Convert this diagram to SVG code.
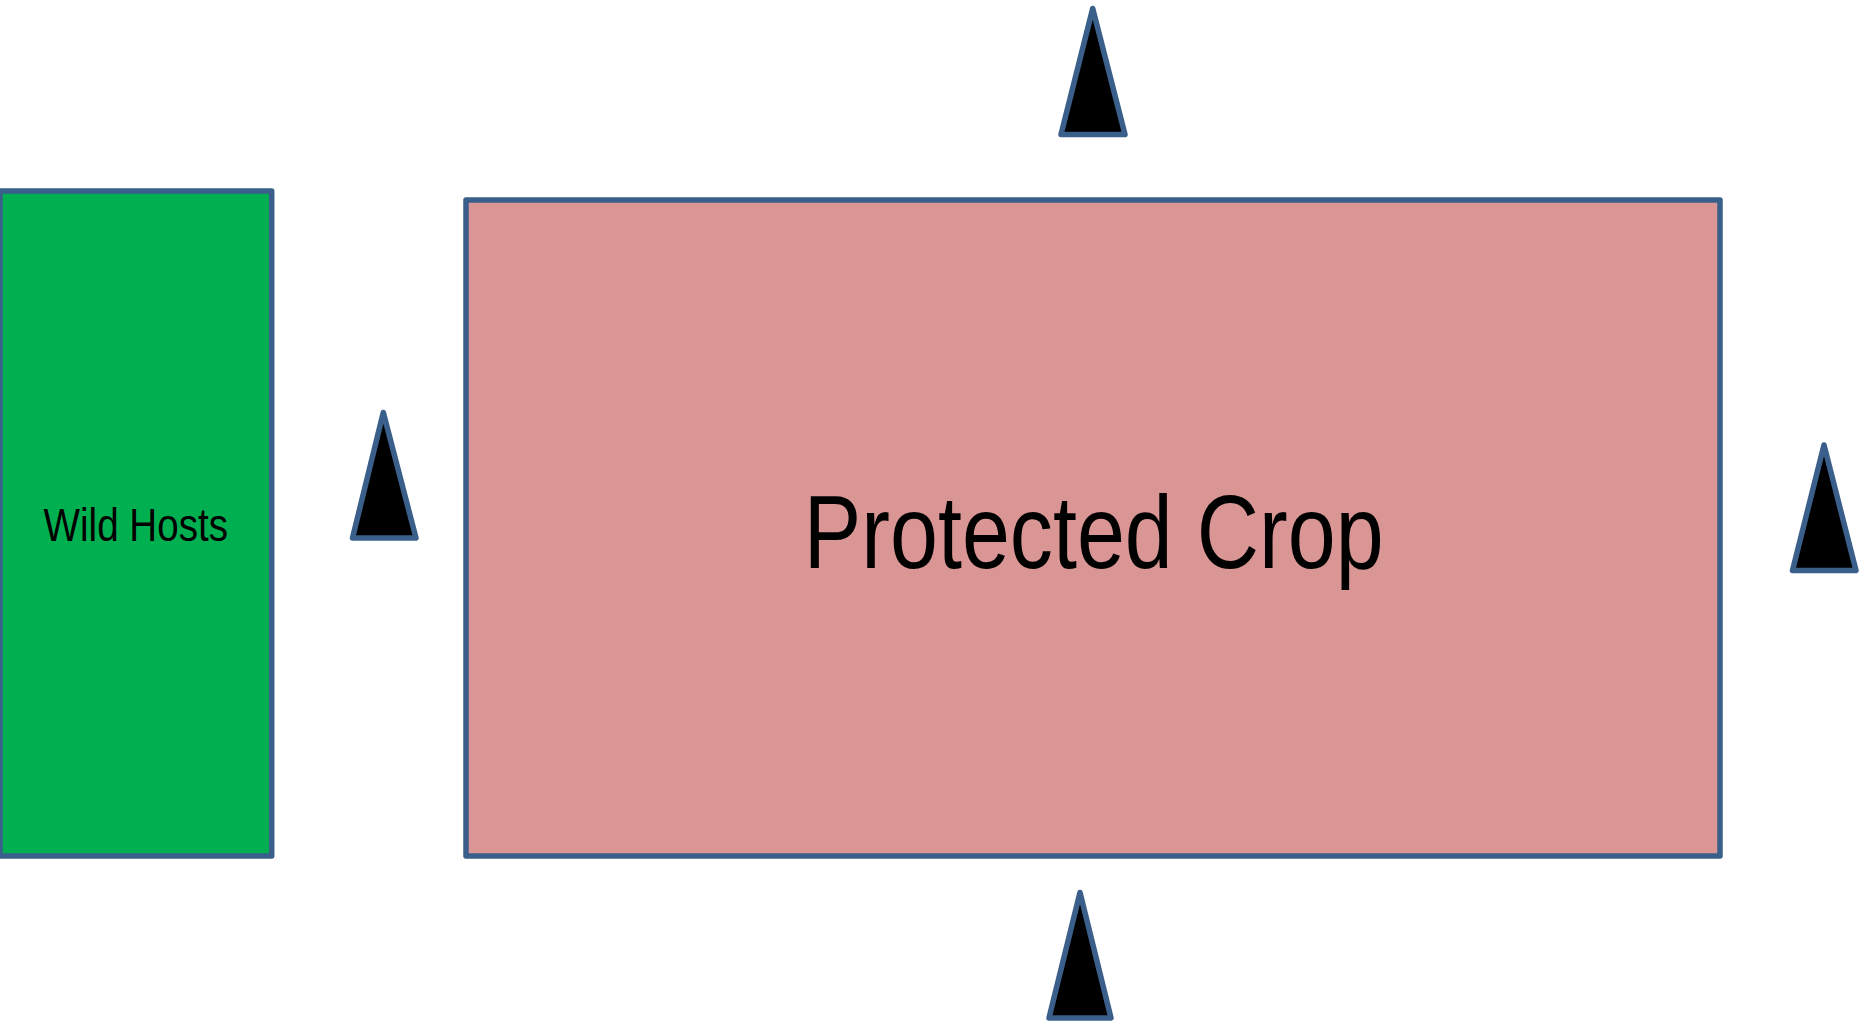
<svg xmlns="http://www.w3.org/2000/svg" width="1866" height="1022" viewBox="0 0 1866 1022">
<style>
.box{stroke:#3A5F8B;stroke-width:5.5;stroke-linejoin:round}
.tri{fill:#000;stroke:#3A5F8B;stroke-width:5.5;stroke-linejoin:round}
.lbl{font-family:"Liberation Sans",Arial,sans-serif;fill:#000;text-anchor:middle}
</style>
<rect width="1866" height="1022" fill="#fff"/>
<g id="wild-hosts">
<rect class="box" x="0" y="191" width="271.7" height="665" fill="#00B050"/>
<text class="lbl" font-size="46.5" transform="translate(135.8,541) scale(0.83,1)">Wild Hosts</text>
</g>
<g id="protected-crop">
<rect class="box" x="466" y="200" width="1254" height="656" fill="#D99694"/>
<text class="lbl" font-size="103" transform="translate(1093.7,567.6) scale(0.837,1)">Protected Crop</text>
</g>
<g id="connectors"></g>
<g id="arrow-top"><polygon class="tri" points="1092.7,8.5 1125,134.5 1061,134.5"/></g>
<g id="arrow-left"><polygon class="tri" points="383.3,412.5 416,538 352.5,538"/></g>
<g id="arrow-right"><polygon class="tri" points="1824,445 1856,570.5 1792.5,570.5"/></g>
<g id="arrow-bottom"><polygon class="tri" points="1080,892.5 1111,1018 1049,1018"/></g>
</svg>
